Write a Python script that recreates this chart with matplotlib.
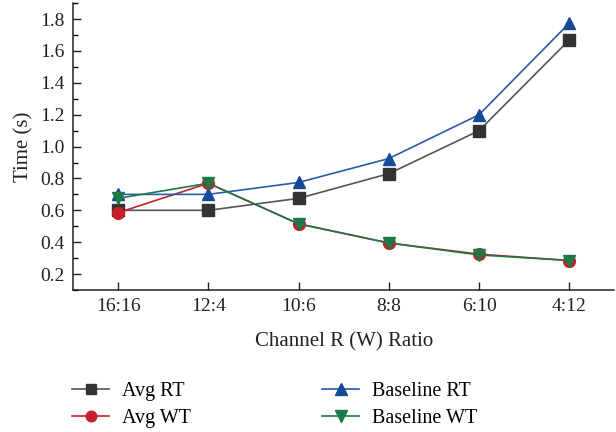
import matplotlib
matplotlib.use("Agg")
import matplotlib.pyplot as plt
from matplotlib.ticker import MultipleLocator

categories = ["16:16", "12:4", "10:6", "8:8", "6:10", "4:12"]
avg_rt = [0.60, 0.60, 0.675, 0.83, 1.10, 1.67]
avg_wt = [0.585, 0.77, 0.515, 0.395, 0.325, 0.285]
base_rt = [0.70, 0.70, 0.775, 0.925, 1.20, 1.775]
base_wt = [0.675, 0.77, 0.515, 0.395, 0.32, 0.285]
yticks = [0.2, 0.4, 0.6, 0.8, 1.0, 1.2, 1.4, 1.6, 1.8]

plt.rcParams['font.family'] = ['Liberation Serif', 'DejaVu Serif']

fig = plt.figure(figsize=(6.16, 4.32), dpi=100)
ax = fig.add_axes([0.1185, 0.3287, 0.879, 0.664])
x = list(range(len(categories)))

l1, = ax.plot(x, avg_rt, color='#555555', lw=1.2, marker='s', ms=8.5,
              mfc='#333333', mec='#333333', label='Avg RT')
l2, = ax.plot(x, avg_wt, color='#c8202a', lw=1.2, marker='o', ms=8.5,
              mfc='#c8202a', mec='#c8202a', label='Avg WT')
l3, = ax.plot(x, base_rt, color='#2a5aa8', lw=1.2, marker='^', ms=9,
              mfc='#154a96', mec='#154a96', label='Baseline RT')
l4, = ax.plot(x, base_wt, color='#1d7a46', lw=1.2, marker='v', ms=9,
              mfc='#1d7a46', mec='#1d7a46', label='Baseline WT')

ax.set_xlim(-0.5, 5.5)
ax.set_ylim(0.1, 1.9)
ax.set_xticks(x)
ax.set_xticklabels(categories)
ax.yaxis.set_minor_locator(MultipleLocator(0.1))
ax.set_yticks(yticks)
ax.set_yticklabels([f"{v:.1f}" for v in yticks])
ax.tick_params(axis='both', which='major', direction='in', length=6, width=1,
               labelsize=14, colors='#222222', pad=6)
ax.tick_params(axis='y', which='minor', direction='in', length=3.5, width=1)
for s in ['top', 'right']:
    ax.spines[s].set_visible(False)
for s in ['left', 'bottom']:
    ax.spines[s].set_linewidth(1.1)
    ax.spines[s].set_color('#222222')

ax.set_xlabel('Channel R (W) Ratio', fontsize=15, color='#222222', labelpad=12)
ax.set_ylabel('Time (s)', fontsize=15, color='#222222', labelpad=5)

common = dict(loc='upper left', frameon=False, fontsize=14.5, handlelength=1.85,
              handletextpad=0.65, labelspacing=0.4, borderaxespad=0,
              borderpad=0, markerscale=0.9)
leg1 = fig.legend([l1, l2], ['Avg RT', 'Avg WT'],
                  bbox_to_anchor=(72 / 616, 1 - 382 / 432), **common)
leg2 = fig.legend([l3, l4], ['Baseline RT', 'Baseline WT'],
                  bbox_to_anchor=(322 / 616, 1 - 382 / 432), **common)

fig.savefig('out.png', dpi=100)
